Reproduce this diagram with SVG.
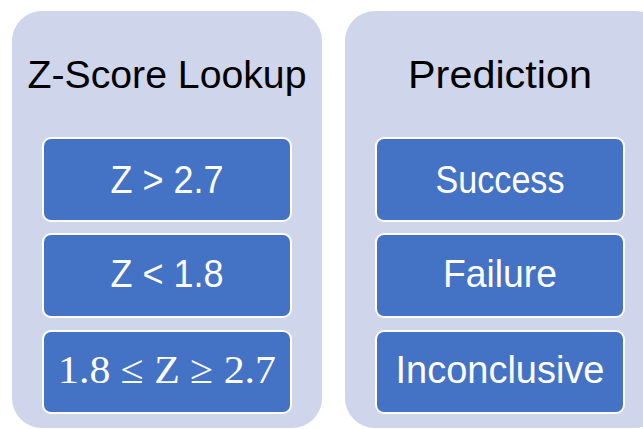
<svg xmlns="http://www.w3.org/2000/svg" width="643" height="429" viewBox="0 0 643 429">
<style>
.panel{fill:#cfd5ea;}
.box{fill:#4472c4;stroke:#ffffff;stroke-width:2;}
.title{font-family:"Liberation Sans",Arial,sans-serif;font-size:39px;fill:#000000;text-anchor:middle;}
.lbl{font-family:"Liberation Sans",Arial,sans-serif;font-size:39px;fill:#ffffff;text-anchor:middle;}
.math{font-family:"Liberation Serif","DejaVu Serif",serif;font-size:40px;fill:#ffffff;text-anchor:middle;}
</style>
<rect width="643" height="429" fill="#ffffff"/>
<g id="zscore-panel">
<rect class="panel" x="12" y="11" width="310" height="417" rx="30" ry="30"/>
<text class="title" x="167" y="88" textLength="279" lengthAdjust="spacingAndGlyphs">Z-Score Lookup</text>
</g>
<g id="prediction-panel">
<rect class="panel" x="345" y="11" width="320" height="417" rx="30" ry="30"/>
<text class="title" x="500" y="88" textLength="184" lengthAdjust="spacingAndGlyphs">Prediction</text>
</g>
<g id="z-gt">
<rect class="box" x="43" y="138" width="248" height="83" rx="8" ry="8"/>
<text class="lbl" x="167" y="193" textLength="113" lengthAdjust="spacingAndGlyphs">Z &gt; 2.7</text>
</g>
<g id="z-lt">
<rect class="box" x="43" y="234" width="248" height="83" rx="8" ry="8"/>
<text class="lbl" x="167" y="287" textLength="113" lengthAdjust="spacingAndGlyphs">Z &lt; 1.8</text>
</g>
<g id="z-mid">
<rect class="box" x="43" y="331" width="248" height="82" rx="8" ry="8"/>
<text class="math" x="167" y="383" textLength="218" lengthAdjust="spacingAndGlyphs">1.8 ≤ Z ≥ 2.7</text>
</g>
<g id="success">
<rect class="box" x="376" y="138" width="248" height="83" rx="8" ry="8"/>
<text class="lbl" x="500" y="193" textLength="129" lengthAdjust="spacingAndGlyphs">Success</text>
</g>
<g id="failure">
<rect class="box" x="376" y="234" width="248" height="83" rx="8" ry="8"/>
<text class="lbl" x="500" y="287" textLength="114" lengthAdjust="spacingAndGlyphs">Failure</text>
</g>
<g id="inconclusive">
<rect class="box" x="376" y="331" width="248" height="82" rx="8" ry="8"/>
<text class="lbl" x="500" y="383" textLength="209" lengthAdjust="spacingAndGlyphs">Inconclusive</text>
</g>
<g id="connectors"></g>
</svg>
